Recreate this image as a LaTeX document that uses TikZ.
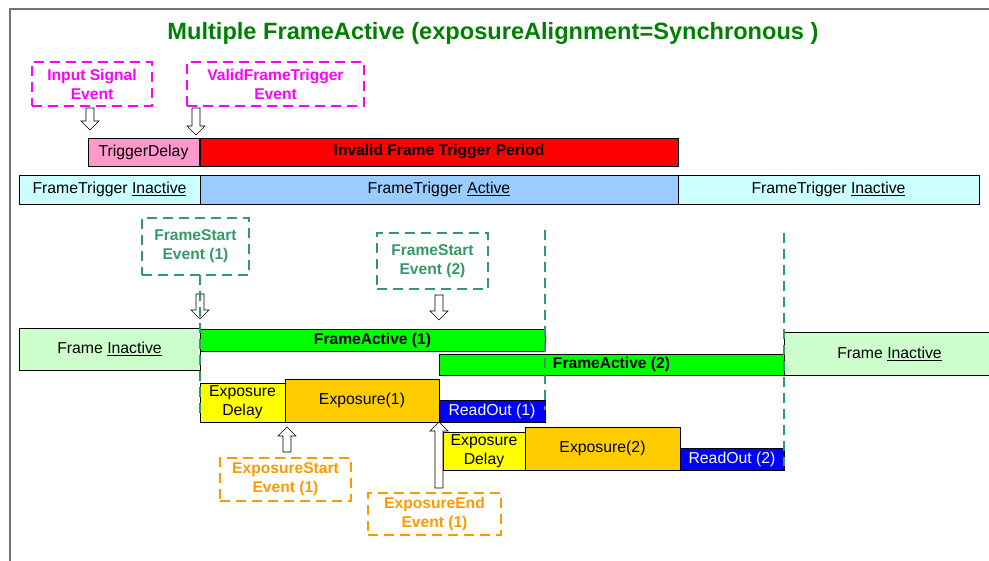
\documentclass[tikz,border=0pt]{standalone}
\usepackage{fontspec}
\setmainfont{Liberation Sans}
\definecolor{titlegreen}{HTML}{008000}
\definecolor{evpink}{HTML}{FF00FF}
\definecolor{evgreen}{HTML}{339966}
\definecolor{evorange}{HTML}{FF9900}
\definecolor{tdpink}{HTML}{FF99CC}
\definecolor{ftinact}{HTML}{CCFFFF}
\definecolor{ftact}{HTML}{99CCFF}
\definecolor{frinact}{HTML}{CCFFCC}
\definecolor{fract}{HTML}{00FF00}
\definecolor{expdel}{HTML}{FFFF00}
\definecolor{expo}{HTML}{FFCC00}
\definecolor{rdout}{HTML}{0000FF}
\newcommand\fsnorm{\fontsize{15.8}{19}\selectfont}
\newcommand\fsbold{\bfseries\fontsize{15.6}{19}\selectfont}
\newcommand\blk[7]{\node[#6, minimum width={(#4)-(#2)}, minimum height={(#5)-(#3)}] (#1) at ({((#2)+(#4))/2},{((#3)+(#5))/2+1}) {#7};}
\newcommand\hdown[3]{\draw[harrow] ({#1-4},{#2}) -- ({#1+4},{#2}) -- ({#1+4},{#3-9}) -- ({#1+9},{#3-9}) -- ({#1},{#3}) -- ({#1-9},{#3-9}) -- ({#1-4},{#3-9}) -- cycle;}
\newcommand\hup[3]{\draw[harrow] ({#1-4},{#2}) -- ({#1+4},{#2}) -- ({#1+4},{#3+9}) -- ({#1+9},{#3+9}) -- ({#1},{#3}) -- ({#1-9},{#3+9}) -- ({#1-4},{#3+9}) -- cycle;}
\begin{document}
\begin{tikzpicture}[x=1pt,y=-1pt,
  box/.style={draw=black, line width=0.8pt, inner sep=0pt, outer sep=0pt, align=center, font=\fsnorm},
  bbox/.style={box, font=\fsbold},
  evt/.style={draw=#1, text=#1, dash pattern=on 10pt off 6pt, line width=2.5pt, inner sep=0pt, outer sep=0pt, align=center, font=\fsbold},
  gline/.style={draw=evgreen, dash pattern=on 10pt off 6pt, line width=2.3pt},
  harrow/.style={draw=black, fill=white, line width=0.7pt, line join=miter}]
\useasboundingbox (0,0) rectangle (989,561);
% frame
\draw[line width=1.5pt, draw=black!55] (10,561) -- (10,9) -- (989,9);
\node[font=\bfseries\fontsize{23.6}{27}\selectfont, text=titlegreen] (title) at (493,33) {Multiple FrameActive (exposureAlignment=Synchronous )};
% events top
\blk{isig}{32}{61}{152}{105}{evt=evpink}{Input Signal\\Event}
\blk{vft}{187}{61}{364}{105}{evt=evpink}{ValidFrameTrigger\\Event}
% trigger rows
\blk{td}{88}{137}{199}{165}{box, fill=tdpink}{TriggerDelay}
\blk{ifp}{200}{137}{678}{165}{bbox, fill=red}{Invalid Frame Trigger Period}
\blk{fti1}{19}{174}{200}{203}{box, fill=ftinact}{FrameTrigger \underline{Inactive}}
\blk{fta}{200}{174}{678}{203}{box, fill=ftact}{FrameTrigger \underline{Active}}
\blk{fti2}{678}{174}{979}{203}{box, fill=ftinact}{FrameTrigger \underline{Inactive}}
% frame start events
\blk{fs1}{142}{217}{249}{274}{evt=evgreen}{FrameStart\\Event (1)}
\blk{fs2}{377}{232}{488}{288}{evt=evgreen}{FrameStart\\Event (2)}
% frame rows
\blk{fri1}{19}{327}{200}{369}{box, fill=frinact}{Frame \underline{Inactive}}
\blk{fa1}{200}{328}{545}{350}{bbox, fill=fract}{FrameActive (1)}
\blk{fa2}{439}{353}{784}{374}{bbox, fill=fract}{FrameActive (2)}
\blk{fri2}{784}{331}{992}{374}{box, fill=frinact}{\hspace*{3pt}Frame \underline{Inactive}}
% exposure rows
\blk{ed1}{200}{382}{285}{421}{box, fill=expdel}{Exposure\\Delay}
\blk{ex1}{285}{378}{439}{421}{box, fill=expo}{Exposure(1)}
\blk{ro1}{439}{399}{545}{421}{box, fill=rdout, text=white}{ReadOut (1)}
\blk{ed2}{443}{431}{525}{469}{box, fill=expdel}{Exposure\\Delay}
\blk{ex2}{525}{426}{680}{469}{box, fill=expo}{Exposure(2)}
\blk{ro2}{680}{447}{784}{469}{box, fill=rdout, text=white}{ReadOut (2)}
% exposure events
\blk{es1}{220}{457}{351}{500}{evt=evorange}{ExposureStart\\Event (1)}
\blk{ee1}{368}{492}{501}{534}{evt=evorange}{ExposureEnd\\Event (1)}
% hollow arrows
\hdown{90}{108}{130}
\hdown{196}{108}{135}
\hdown{200}{294}{319}
\hdown{439}{295}{320}
\hup{287}{452}{427}
\hup{439}{488}{422}
% dashed timing lines
\draw[gline] (200,275) -- (200,413);
\draw[gline] (545,230) -- (545,410);
\draw[gline] (784,233) -- (784,466);
\end{tikzpicture}
\end{document}
